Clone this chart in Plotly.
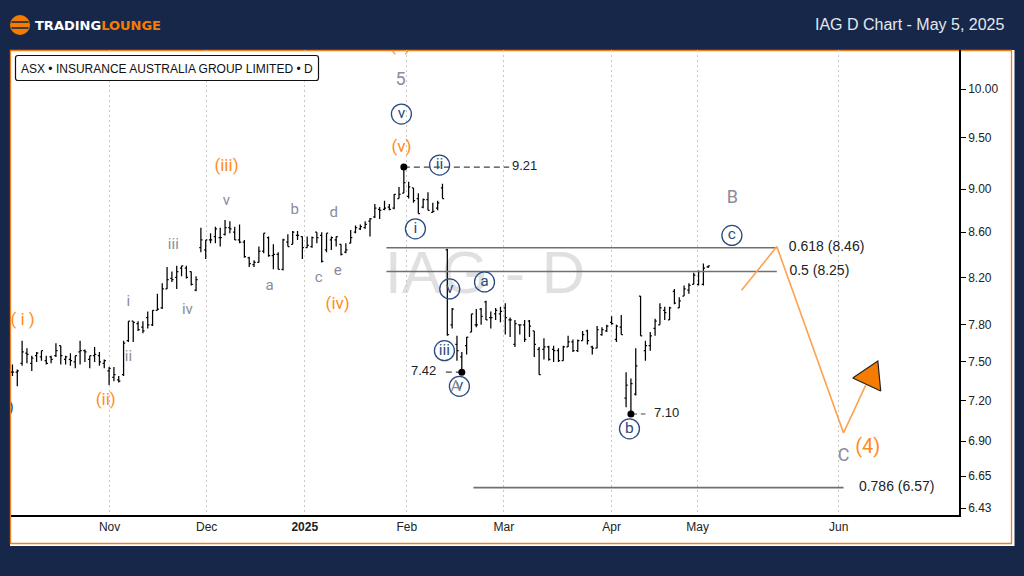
import math
import plotly.graph_objects as go

NAVY = "#16274a"
ORANGE = "#f57c00"
LABEL_ORANGE = "#ff8c1a"
WAVE_ORANGE = "#ffa24f"
GREY = "#8a8c9c"
BLUE = "#2b4b80"
TEXT = "#222222"

# daily bars
opens = [7.42, 7.42, 7.49, 7.57, 7.49, 7.55, 7.54, 7.51, 7.54, 7.55, 7.63, 7.52, 7.52, 7.50, 7.58, 7.59, 7.52, 7.55, 7.55, 7.49,
         7.43, 7.38, 7.36, 7.40, 7.67, 7.83, 7.81, 7.78, 7.86, 7.80, 7.92, 7.94, 8.10, 8.19, 8.20, 8.28, 8.28, 8.25, 8.09, 8.46,
         8.44, 8.53, 8.56, 8.55, 8.58, 8.64, 8.60, 8.53, 8.51, 8.37, 8.31, 8.33, 8.43, 8.55, 8.39, 8.40, 8.27, 8.51, 8.49, 8.57,
         8.56, 8.46, 8.47, 8.60, 8.57, 8.44, 8.53, 8.53, 8.49, 8.42, 8.50, 8.60, 8.63, 8.64, 8.70, 8.74, 8.81, 8.81, 8.83, 8.82,
         8.91, 8.96, 8.93, 9.01, 8.91, 8.83, 8.90, 8.78, 8.82, 9.01, 8.44, 7.80, 7.64, 7.54, 7.63, 7.74, 7.80, 7.93, 7.99, 7.86,
         7.89, 7.89, 7.94, 7.84, 7.64, 7.80, 7.80, 7.83, 7.75, 7.60, 7.60, 7.62, 7.60, 7.59, 7.51, 7.62, 7.66, 7.59, 7.67, 7.75,
         7.62, 7.61, 7.72, 7.75, 7.82, 7.68, 7.78, 7.22, 7.10, 7.25, 8.04, 7.59, 7.63, 7.77, 7.80, 7.92, 7.84, 8.08, 7.94, 8.04,
         8.09, 8.14, 8.14, 8.14, 8.29]
highs = [7.48, 7.44, 7.67, 7.61, 7.55, 7.58, 7.59, 7.55, 7.55, 7.65, 7.63, 7.55, 7.57, 7.55, 7.67, 7.60, 7.55, 7.62, 7.58, 7.52,
         7.46, 7.46, 7.39, 7.67, 7.83, 7.83, 7.83, 7.83, 7.91, 7.92, 8.06, 8.15, 8.29, 8.25, 8.30, 8.30, 8.30, 8.25, 8.21, 8.64,
         8.53, 8.59, 8.65, 8.64, 8.71, 8.70, 8.65, 8.67, 8.53, 8.38, 8.35, 8.47, 8.59, 8.56, 8.49, 8.42, 8.54, 8.58, 8.61, 8.61,
         8.56, 8.56, 8.56, 8.60, 8.60, 8.59, 8.56, 8.56, 8.49, 8.50, 8.62, 8.66, 8.67, 8.70, 8.73, 8.86, 8.83, 8.89, 8.86, 8.95,
         9.02, 9.21, 9.07, 9.01, 8.96, 8.91, 8.97, 8.87, 8.89, 9.05, 8.45, 7.94, 7.71, 7.58, 7.70, 7.89, 7.93, 7.94, 8.00, 7.91,
         7.94, 7.95, 7.98, 7.86, 7.84, 7.80, 7.84, 7.84, 7.75, 7.62, 7.69, 7.63, 7.63, 7.61, 7.63, 7.71, 7.68, 7.68, 7.75, 7.76,
         7.63, 7.79, 7.78, 7.80, 7.87, 7.80, 7.88, 7.42, 7.37, 7.61, 8.04, 7.67, 7.74, 7.85, 7.98, 7.95, 7.95, 8.10, 8.03, 8.13,
         8.15, 8.24, 8.26, 8.32, 8.30]
lows = [7.39, 7.31, 7.47, 7.49, 7.43, 7.50, 7.51, 7.48, 7.49, 7.54, 7.48, 7.48, 7.47, 7.45, 7.48, 7.50, 7.45, 7.50, 7.47, 7.45,
        7.32, 7.35, 7.34, 7.39, 7.66, 7.66, 7.75, 7.73, 7.77, 7.79, 7.92, 7.93, 8.10, 8.16, 8.10, 8.21, 8.19, 8.13, 8.08, 8.42,
        8.36, 8.50, 8.50, 8.47, 8.57, 8.59, 8.53, 8.50, 8.37, 8.29, 8.29, 8.33, 8.41, 8.38, 8.27, 8.27, 8.26, 8.47, 8.49, 8.53,
        8.36, 8.46, 8.46, 8.50, 8.33, 8.42, 8.44, 8.47, 8.39, 8.41, 8.50, 8.59, 8.62, 8.63, 8.56, 8.73, 8.72, 8.80, 8.80, 8.81,
        8.91, 8.96, 8.91, 8.87, 8.77, 8.82, 8.80, 8.78, 8.80, 8.91, 7.71, 7.77, 7.51, 7.42, 7.56, 7.74, 7.78, 7.80, 7.84, 7.77,
        7.84, 7.82, 7.72, 7.70, 7.62, 7.72, 7.66, 7.70, 7.54, 7.40, 7.52, 7.51, 7.50, 7.50, 7.51, 7.62, 7.58, 7.58, 7.67, 7.64,
        7.56, 7.61, 7.71, 7.74, 7.80, 7.66, 7.72, 7.15, 7.10, 7.24, 7.71, 7.51, 7.59, 7.71, 7.80, 7.84, 7.84, 7.97, 7.94, 8.04,
        8.06, 8.14, 8.13, 8.13, 8.28]
closes = [7.42, 7.43, 7.58, 7.56, 7.53, 7.57, 7.59, 7.49, 7.52, 7.59, 7.55, 7.54, 7.51, 7.55, 7.59, 7.58, 7.55, 7.56, 7.50, 7.51,
          7.45, 7.40, 7.35, 7.65, 7.83, 7.82, 7.76, 7.75, 7.80, 7.92, 7.93, 8.10, 8.18, 8.18, 8.25, 8.30, 8.20, 8.14, 8.18, 8.53,
          8.53, 8.53, 8.63, 8.55, 8.64, 8.63, 8.53, 8.51, 8.38, 8.32, 8.33, 8.43, 8.59, 8.39, 8.40, 8.27, 8.53, 8.47, 8.60, 8.57,
          8.46, 8.48, 8.55, 8.55, 8.34, 8.59, 8.55, 8.56, 8.40, 8.44, 8.55, 8.64, 8.65, 8.67, 8.72, 8.82, 8.80, 8.82, 8.81, 8.95,
          8.95, 9.06, 9.02, 8.89, 8.77, 8.90, 8.80, 8.79, 8.87, 8.91, 7.72, 7.93, 7.59, 7.42, 7.70, 7.89, 7.80, 7.87, 7.84, 7.86,
          7.92, 7.91, 7.86, 7.84, 7.81, 7.80, 7.68, 7.79, 7.64, 7.40, 7.62, 7.52, 7.59, 7.51, 7.62, 7.66, 7.59, 7.67, 7.72, 7.67,
          7.61, 7.76, 7.76, 7.79, 7.81, 7.79, 7.72, 7.32, 7.33, 7.47, 7.71, 7.63, 7.71, 7.83, 7.94, 7.90, 7.94, 7.98, 8.00, 8.10,
          8.13, 8.22, 8.25, 8.28, 8.30]
bar_numbers = list(range(len(closes)))

# x axis labels, in bar numbers
month_positions = [20.1, 40.2, 60.5, 81.6, 101.7, 124, 141.8, 171]
month_labels = ["Nov", "Dec", "<b>2025</b>", "Feb", "Mar", "Apr", "May", "Jun"]
price_ticks = [10.00, 9.50, 9.00, 8.60, 8.20, 7.80, 7.50, 7.20, 6.90, 6.65, 6.43]

# fibonacci levels and pivots
fib_levels = [8.46, 8.25, 6.57]
fib_starts = [77.4, 77.4, 95.4]
fib_ends = [158.2, 158.2, 172]
fib_texts = ["0.618 (8.46)", "0.5 (8.25)", "0.786 (6.57)"]
fib_text_x = [168.5, 167, 183]
pivot_bars = [81, 93, 128]
pivot_prices = [9.21, 7.42, 7.10]
pivot_dash_ends = [102.8, 89.5, 131]
pivot_text_x = [106, 85.1, 135.4]

# projected path
wave_bars = [150.9, 158.2, 172, 176.6]
wave_prices = [8.09, 8.47, 6.96, 7.32]
arrow_bars = [173.9, 179.1, 179.7, 173.9]
arrow_prices = [7.375, 7.508, 7.274, 7.375]

# wave counts
orange_texts = ["( i )", "(ii)", "(iii)", "(iv)", "(v)"]
orange_bars = [2.1, 19.3, 44.3, 67.3, 80.5]
orange_prices = [7.83, 7.20, 9.21, 7.97, 9.40]
grey_texts = ["i", "ii", "iii", "iv", "v", "a", "b", "c", "d", "e", "A"]
grey_bars = [24, 24, 33.3, 36.2, 44.3, 53.2, 58.4, 63.4, 66.5, 67.3, 91.7]
grey_prices = [7.99, 7.54, 8.48, 7.92, 8.88, 8.12, 8.80, 8.19, 8.77, 8.25, 7.30]
big_grey_texts = ["5", "B", "C"]
big_grey_bars = [80.3, 149, 172]
big_grey_prices = [10.09, 8.91, 6.79]
circled_texts = ["v", "ii", "i", "v", "a", "iii", "v", "b", "c"]
circled_bars = [80.5, 88.4, 83.4, 90.5, 97.7, 89.4, 92.5, 127.7, 148.9]
circled_prices = [9.74, 9.23, 8.63, 8.10, 8.16, 7.59, 7.31, 6.99, 8.57]


# page chrome is placed in screen pixels
def px(x):
    return (x - 11) / 948


def py(y):
    return (515 - y) / 465


fig = go.Figure()

fig.add_trace(go.Ohlc(
    x=bar_numbers, open=opens, high=highs, low=lows, close=closes,
    increasing_line_color="black", decreasing_line_color="black",
    line_width=1.25, tickwidth=0.34, hoverinfo="skip", showlegend=False,
))

for level, x0, x1 in zip(fib_levels, fib_starts, fib_ends):
    fig.add_trace(go.Scatter(x=[x0, x1], y=[level, level], mode="lines",
                             line=dict(color="#707070", width=1.6), hoverinfo="skip"))

for bar, price, x1 in zip(pivot_bars, pivot_prices, pivot_dash_ends):
    fig.add_trace(go.Scatter(x=[bar, x1], y=[price, price], mode="lines",
                             line=dict(color="#444444", width=1.2, dash="6px,4px"), hoverinfo="skip"))

fig.add_trace(go.Scatter(x=pivot_bars, y=pivot_prices, mode="markers",
                         marker=dict(color="black", size=7), hoverinfo="skip"))

fig.add_trace(go.Scatter(x=wave_bars, y=wave_prices, mode="lines",
                         line=dict(color=WAVE_ORANGE, width=1.6), hoverinfo="skip"))
fig.add_trace(go.Scatter(x=arrow_bars, y=arrow_prices, mode="lines", fill="toself", fillcolor=ORANGE,
                         line=dict(color="#222222", width=1.2), hoverinfo="skip"))

fig.add_trace(go.Scatter(x=circled_bars, y=circled_prices, mode="markers+text", text=circled_texts,
                         textposition="middle center", textfont=dict(family="Roboto", size=15.5, color=BLUE),
                         marker=dict(symbol="circle-open", size=20, color=BLUE, line=dict(width=1.3, color=BLUE)),
                         hoverinfo="skip"))


def add_labels(texts, bars, prices, size, color, family="Roboto", position="middle center"):
    fig.add_trace(go.Scatter(x=bars, y=prices, mode="text", text=texts, textposition=position,
                             textfont=dict(family=family, size=size, color=color), hoverinfo="skip"))


add_labels(orange_texts, orange_bars, orange_prices, 17, LABEL_ORANGE)
# counts cut off by the edges of the plot
add_labels(["(  )"], [80.3], [10.36], 17, LABEL_ORANGE, position="top center")
add_labels([")"], [-0.3], [7.14], 15, BLUE)
add_labels(["(4)"], [177], [6.85], 20, LABEL_ORANGE)
add_labels(grey_texts, grey_bars, grey_prices, 15, GREY)
add_labels(big_grey_texts, big_grey_bars, big_grey_prices, 18, GREY)
add_labels([f"{p:.2f}" for p in pivot_prices], pivot_text_x, pivot_prices, 13, TEXT, "Liberation Sans")
add_labels(fib_texts, fib_text_x, fib_levels, 14, TEXT, "Liberation Sans")

shapes = [
    dict(type="rect", xref="paper", yref="paper", x0=px(10), x1=px(1014.5), y0=py(546), y1=py(50),
         fillcolor="white", line_width=0, layer="below"),
    dict(type="rect", xref="paper", yref="paper", x0=px(10.5), x1=px(1011.5), y0=py(543.5), y1=py(50.5),
         fillcolor="rgba(0,0,0,0)", line=dict(color="#ee8020", width=1.3), layer="below"),
    # watermark
    dict(type="rect", xref="paper", yref="paper", x0=px(370), x1=px(600), y0=py(301), y1=py(231),
         fillcolor="rgba(0,0,0,0)", line_width=0, layer="below",
         label=dict(text="IAG - D", textposition="middle center",
                    font=dict(family="Liberation Sans", size=60, color="#e0e0e0"))),
    # symbol box
    dict(type="path", xref="paper", yref="paper", layer="above", fillcolor="white",
         line=dict(color="#111111", width=1.2),
         path=f"M {px(18)} {py(55.5)} L {px(316)} {py(55.5)} Q {px(318.5)} {py(55.5)} {px(318.5)} {py(58)} "
              f"L {px(318.5)} {py(78)} Q {px(318.5)} {py(80.5)} {px(316)} {py(80.5)} "
              f"L {px(18)} {py(80.5)} Q {px(15.5)} {py(80.5)} {px(15.5)} {py(78)} "
              f"L {px(15.5)} {py(58)} Q {px(15.5)} {py(55.5)} {px(18)} {py(55.5)} Z"),
    # logo
    dict(type="circle", xref="paper", yref="paper", x0=px(10), x1=px(30), y0=py(35), y1=py(15),
         fillcolor="#f57c00", line_width=0, layer="above"),
    dict(type="line", xref="paper", yref="paper", x0=px(11.5), x1=px(28.5), y0=py(22), y1=py(22),
         line=dict(color=NAVY, width=1.6), layer="above"),
    dict(type="line", xref="paper", yref="paper", x0=px(11.5), x1=px(28.5), y0=py(28), y1=py(28),
         line=dict(color=NAVY, width=1.6), layer="above"),
]

annotations = [
    dict(x=px(1007), y=py(24), xref="paper", yref="paper", xanchor="right", yanchor="middle", showarrow=False,
         text="IAG D Chart - May 5, 2025", font=dict(family="Liberation Sans", size=16, color="#e4e7ee")),
    dict(x=px(167), y=py(68.5), xref="paper", yref="paper", xanchor="center", yanchor="middle", showarrow=False,
         text="ASX • INSURANCE AUSTRALIA GROUP LIMITED • D", font=dict(family="Liberation Sans", size=12, color="#111111")),
    dict(x=px(33), y=py(25), xref="paper", yref="paper", xanchor="left", yanchor="middle", showarrow=False,
         text='<span style="color:#ffffff">TRADING</span><span style="color:#f57c00">LOUNGE</span>',
         font=dict(family="DejaVu Sans", size=13, weight="bold")),
]

fig.update_xaxes(
    range=[-0.3, 195.9], tickmode="array", tickvals=month_positions, ticktext=month_labels,
    showgrid=True, gridcolor="#c8c8c8", griddash="2px,3px", gridwidth=1,
    showline=True, linecolor="black", linewidth=1.5, ticks="", zeroline=False,
    rangeslider_visible=False, tickfont=dict(family="Liberation Sans", size=12, color=TEXT),
)
fig.update_yaxes(
    type="log", range=[math.log10(6.383), math.log10(10.42)], side="right",
    tickmode="array", tickvals=price_ticks, ticktext=[f"{t:.2f}" for t in price_ticks],
    showgrid=False, showline=True, linecolor="black", linewidth=1.5, ticks="outside", ticklen=5, tickcolor="black",
    zeroline=False, tickfont=dict(family="Liberation Sans", size=12, color=TEXT),
)
fig.update_layout(
    width=1024, height=576, margin=dict(l=11, r=65, t=50, b=61),
    paper_bgcolor=NAVY, plot_bgcolor="white", showlegend=False,
    shapes=shapes, annotations=annotations, hovermode=False,
)

fig.write_html("out.html", config=dict(displayModeBar=False),
               post_script="document.body.style.margin='0';document.body.style.overflow='hidden';")
